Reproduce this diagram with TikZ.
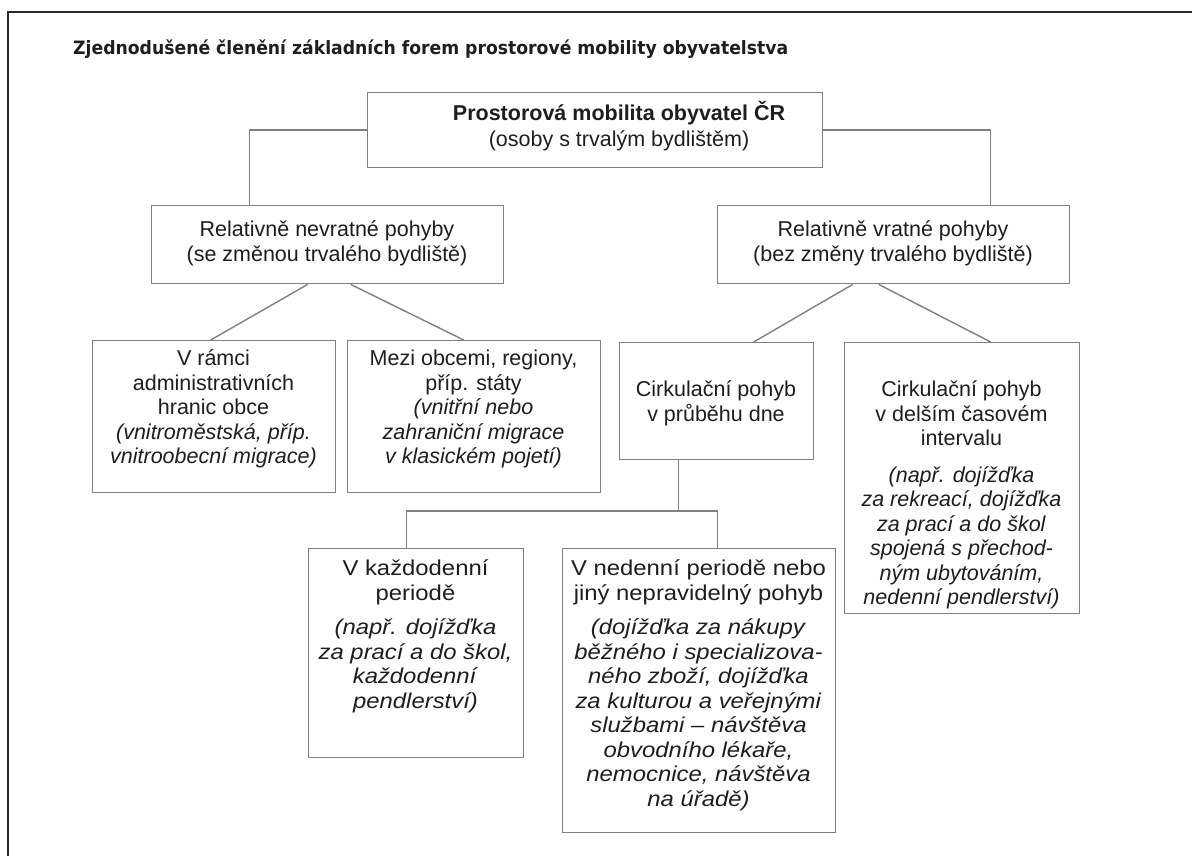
\documentclass[tikz,border=0pt]{standalone}
\usepackage{graphicx}
\usepackage{fontspec}
\setmainfont{Liberation Sans}
\newfontfamily\titlefont{DejaVu Sans}
\newfontfamily\widefont{Liberation Sans}[FakeStretch=1.11]
\usetikzlibrary{calc}
\definecolor{boxc}{HTML}{808080}
\definecolor{txtc}{HTML}{1E1E1E}
\definecolor{framec}{HTML}{2A2A2A}
\newcommand\firstrule{\rule{0pt}{21pt}}
\begin{document}
\begin{tikzpicture}[x=1pt,y=-1pt,
  box/.style={draw=boxc, line width=1.4pt, inner sep=0pt, anchor=north west},
  conn/.style={draw=boxc, line width=1.4pt},
  txt/.style={font=\fontsize{21.5}{24.5}\selectfont, align=center, anchor=north, inner sep=0pt, text=txtc},
  wtxt/.style={txt, font=\fontsize{21.5}{24.5}\selectfont\widefont},
]
\useasboundingbox[fill=white] (0,0) rectangle (1192,856);
% frame
\draw[framec, line width=2pt] (1200,12) -- (8,12) -- (8,870);
% title
\node[anchor=west, inner sep=0pt, text=txtc] (title) at (73,49)
  {\resizebox{715pt}{\height}{\fontsize{18.4}{20}\titlefont\bfseries Zjednodušené členění základních forem prostorové mobility obyvatelstva}};
% boxes
\node[box, minimum width=455pt, minimum height=75pt] (top) at (367,92) {};
\node[box, minimum width=352pt, minimum height=78pt] (A) at (151,205) {};
\node[box, minimum width=352pt, minimum height=78pt] (B) at (717,205) {};
\node[box, minimum width=243pt, minimum height=152pt] (C) at (92,340) {};
\node[box, minimum width=253pt, minimum height=152pt] (D) at (347,340) {};
\node[box, minimum width=194pt, minimum height=117pt] (E) at (619,342) {};
\node[box, minimum width=235pt, minimum height=271pt] (F) at (844,342) {};
\node[box, minimum width=215pt, minimum height=209pt] (G) at (308,548) {};
\node[box, minimum width=273pt, minimum height=284pt] (H) at (562,548) {};
% connectors
\draw[conn] (top.west) -| ([xshift=-78pt]A.north);
\draw[conn] (top.east) -| ([xshift=97pt]B.north);
\draw[conn] ([xshift=-20pt]A.south) -- ([xshift=-3.5pt]C.north);
\draw[conn] ([xshift=23pt]A.south) -- ([xshift=-10.5pt]D.north);
\draw[conn] ([xshift=-41pt]B.south) -- ([xshift=37pt]E.north);
\draw[conn] ([xshift=-15pt]B.south) -- ([xshift=28.5pt]F.north);
\coordinate (bar) at (0,511);
\draw[conn] ([xshift=-38pt]E.south) -- ([xshift=-38pt]E.south |- bar);
\draw[conn] ([xshift=-9.5pt]G.north) -- ([xshift=-9.5pt]G.north |- bar) -- ([xshift=18.5pt]H.north |- bar) -- ([xshift=18.5pt]H.north);
% texts
\node[txt] (tTop) at (619,99.7) {\firstrule\textbf{Prostorová mobilita obyvatel ČR}\\[1.5pt] (osoby s trvalým bydlištěm)};
\node[txt] (tA) at (327,215.7) {\firstrule Relativně nevratné pohyby\\ (se změnou trvalého bydliště)};
\node[txt] (tB) at (893,215.7) {\firstrule Relativně vratné pohyby\\ (bez změny trvalého bydliště)};
\node[txt] (tC) at (213.5,344.7) {\firstrule V rámci\\ administrativních\\ hranic obce\\ \textit{(vnitroměstská, příp.}\\ \textit{vnitroobecní migrace)}};
\node[txt] (tD) at (473.5,344.7) {\firstrule Mezi obcemi, regiony,\\ příp. státy\\ \textit{(vnitřní nebo}\\ \textit{zahraniční migrace}\\ \textit{v klasickém pojetí)}};
\node[txt] (tE) at (716,375.7) {\firstrule Cirkulační pohyb\\ v průběhu dne};
\node[txt] (tF) at (961.5,375.7) {\firstrule Cirkulační pohyb\\ v delším časovém\\ intervalu\\[12pt] \textit{(např. dojížďka}\\ \textit{za rekreací, dojížďka}\\ \textit{za prací a do škol}\\ \textit{spojená s přechod-}\\ \textit{ným ubytováním,}\\ \textit{nedenní pendlerství)}};
\node[wtxt] (tG) at (415.5,554.7) {\firstrule V každodenní\\ periodě\\[10pt] \textit{(např. dojížďka}\\ \textit{za prací a do škol,}\\ \textit{každodenní}\\ \textit{pendlerství)}};
\node[wtxt] (tH) at (698.5,554.7) {\firstrule V nedenní periodě nebo\\ jiný nepravidelný pohyb\\[10pt] \textit{(dojížďka za nákupy}\\ \textit{běžného i specializova-}\\ \textit{ného zboží, dojížďka}\\ \textit{za kulturou a veřejnými}\\ \textit{službami – návštěva}\\ \textit{obvodního lékaře,}\\ \textit{nemocnice, návštěva}\\ \textit{na úřadě)}};
\end{tikzpicture}
\end{document}
